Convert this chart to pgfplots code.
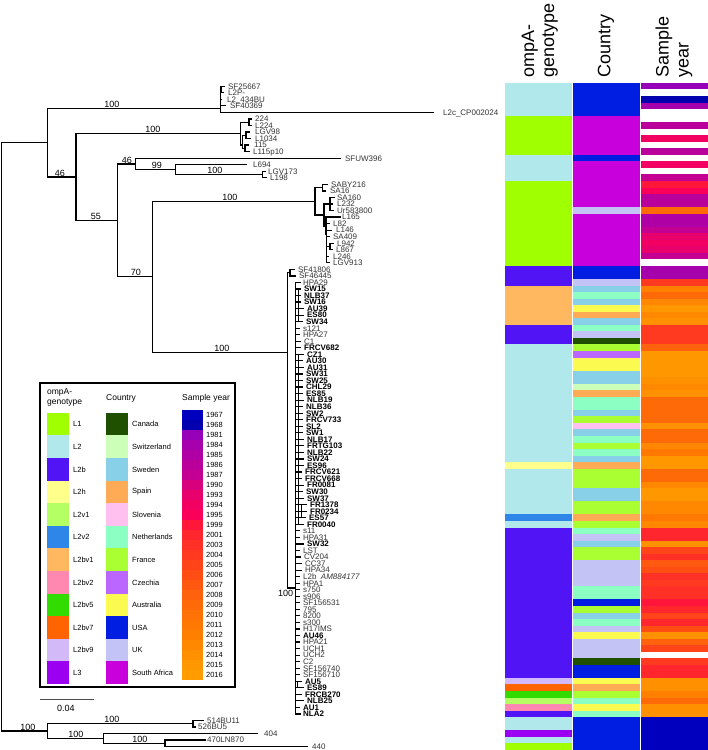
\documentclass[border=0pt]{standalone}
\usepackage{fontspec}
\setmainfont{Liberation Sans}
\usepackage{pgfplots}
\usepackage{pgfplotstable}
\pgfplotsset{compat=1.18}

% genotype colours
\definecolor{L1}{RGB}{160,255,0}
\definecolor{L2}{RGB}{176,232,236}
\definecolor{L2b}{RGB}{80,20,245}
\definecolor{L2h}{RGB}{255,255,140}
\definecolor{L2v1}{RGB}{180,255,100}
\definecolor{L2v2}{RGB}{46,134,232}
\definecolor{L2bv1}{RGB}{255,184,96}
\definecolor{L2bv2}{RGB}{255,136,176}
\definecolor{L2bv5}{RGB}{50,220,0}
\definecolor{L2bv7}{RGB}{255,100,0}
\definecolor{L2bv9}{RGB}{210,185,248}
\definecolor{L3}{RGB}{155,0,240}
% country colours
\definecolor{Canada}{RGB}{30,80,0}
\definecolor{Switzerland}{RGB}{204,255,184}
\definecolor{Sweden}{RGB}{136,208,232}
\definecolor{Spain}{RGB}{255,170,85}
\definecolor{Slovenia}{RGB}{255,192,240}
\definecolor{Netherlands}{RGB}{140,255,195}
\definecolor{France}{RGB}{170,255,51}
\definecolor{Czechia}{RGB}{187,102,255}
\definecolor{Australia}{RGB}{250,250,80}
\definecolor{USA}{RGB}{0,30,225}
\definecolor{UK}{RGB}{195,195,245}
\definecolor{SAf}{RGB}{200,0,220}
% year colours
\definecolor{y1967}{RGB}{0,0,190}
\definecolor{y1968}{RGB}{0,0,175}
\definecolor{y1981}{RGB}{150,0,185}
\definecolor{y1984}{RGB}{165,0,172}
\definecolor{y1985}{RGB}{175,0,165}
\definecolor{y1986}{RGB}{185,0,155}
\definecolor{y1987}{RGB}{195,0,145}
\definecolor{y1990}{RGB}{215,0,125}
\definecolor{y1993}{RGB}{232,0,108}
\definecolor{y1994}{RGB}{242,0,98}
\definecolor{y1995}{RGB}{250,0,88}
\definecolor{y1999}{RGB}{255,22,58}
\definecolor{y2001}{RGB}{255,38,45}
\definecolor{y2003}{RGB}{255,48,38}
\definecolor{y2004}{RGB}{255,58,32}
\definecolor{y2005}{RGB}{255,68,26}
\definecolor{y2006}{RGB}{255,78,20}
\definecolor{y2007}{RGB}{255,88,16}
\definecolor{y2008}{RGB}{255,98,12}
\definecolor{y2009}{RGB}{255,106,8}
\definecolor{y2010}{RGB}{255,114,5}
\definecolor{y2011}{RGB}{255,121,2}
\definecolor{y2012}{RGB}{255,128,0}
\definecolor{y2013}{RGB}{255,136,0}
\definecolor{y2014}{RGB}{255,144,0}
\definecolor{y2015}{RGB}{255,151,0}
\definecolor{y2016}{RGB}{255,157,0}

\pgfdeclareplotmark{hcell}{\pgfpathrectangle{\pgfqpoint{-33.25pt}{-3.35pt}}{\pgfqpoint{66.5pt}{6.7pt}}\pgfusepathqfill}
\pgfdeclareplotmark{lsw}{\pgfpathrectangle{\pgfqpoint{-11pt}{-11.35pt}}{\pgfqpoint{22pt}{22.7pt}}\pgfusepathqfill}
\pgfdeclareplotmark{ysw}{\pgfpathrectangle{\pgfqpoint{-10.8pt}{-5.1pt}}{\pgfqpoint{21.6pt}{10.2pt}}\pgfusepathqfill}

\pgfplotsset{
 gclass/.style={scatter/classes={L1={color=L1},L2={color=L2},L2b={color=L2b},L2h={color=L2h},L2v1={color=L2v1},L2v2={color=L2v2},L2bv1={color=L2bv1},L2bv2={color=L2bv2},L2bv5={color=L2bv5},L2bv7={color=L2bv7},L2bv9={color=L2bv9},L3={color=L3}}},
 cclass/.style={scatter/classes={Canada={color=Canada},Switzerland={color=Switzerland},Sweden={color=Sweden},Spain={color=Spain},Slovenia={color=Slovenia},Netherlands={color=Netherlands},France={color=France},Czechia={color=Czechia},Australia={color=Australia},USA={color=USA},UK={color=UK},SAf={color=SAf}}},
 yclass/.style={scatter/classes={na={color=white},y1967={color=y1967},y1968={color=y1968},y1981={color=y1981},y1984={color=y1984},y1985={color=y1985},y1986={color=y1986},y1987={color=y1987},y1990={color=y1990},y1993={color=y1993},y1994={color=y1994},y1995={color=y1995},y1999={color=y1999},y2001={color=y2001},y2003={color=y2003},y2004={color=y2004},y2005={color=y2005},y2006={color=y2006},y2007={color=y2007},y2008={color=y2008},y2009={color=y2009},y2010={color=y2010},y2011={color=y2011},y2012={color=y2012},y2013={color=y2013},y2014={color=y2014},y2015={color=y2015},y2016={color=y2016}}},
}

\pgfplotstableread{
r g c yr
0 L2 USA y1981
1 L2 USA na
2 L2 USA y1968
3 L2 USA y1984
4 L2 USA na
5 L1 SAf na
6 L1 SAf y1986
7 L1 SAf na
8 L1 SAf y1994
9 L1 SAf na
10 L1 SAf y1986
11 L2 USA na
12 L2 SAf y1994
13 L2 SAf na
14 L2 SAf y1987
15 L1 SAf y1999
16 L1 SAf y1995
17 L1 SAf y1986
18 L1 SAf y1986
19 L1 UK y2009
20 L1 SAf y1985
21 L1 SAf y1985
22 L1 SAf y1987
23 L1 SAf y1993
24 L1 SAf y1994
25 L1 SAf y1993
26 L1 SAf y1987
27 L1 SAf na
28 L2b USA y1984
29 L2b USA y1984
30 L2b UK y2004
31 L2bv1 Sweden y2012
32 L2bv1 Netherlands y2009
33 L2bv1 Sweden y2013
34 L2bv1 Australia y2015
35 L2bv1 Spain y2013
36 L2bv1 Sweden y2014
37 L2b Netherlands y2004
38 L2b UK y2004
39 L2b Canada y2004
40 L2 France y2008
41 L2 Czechia y2015
42 L2 Australia y2015
43 L2 Australia y2015
44 L2 Sweden y2015
45 L2 Sweden y2014
46 L2 Switzerland y2013
47 L2 Spain y2014
48 L2 Netherlands y2009
49 L2 Netherlands y2009
50 L2 Sweden y2009
51 L2 France y2009
52 L2 Slovenia y2014
53 L2 Sweden y2009
54 L2 Netherlands y2009
55 L2 France y2013
56 L2 Netherlands y2011
57 L2 Sweden y2015
58 L2h Spain y2015
59 L2 France y2009
60 L2 France y2009
61 L2 France y2013
62 L2 Sweden y2015
63 L2 Sweden y2015
64 L2 France y2013
65 L2 France y2013
66 L2v2 Spain y2011
67 L2 France y2013
68 L2b Netherlands y2001
69 L2b UK y2001
70 L2b Sweden y2014
71 L2b France y2005
72 L2b France y2003
73 L2b UK y2007
74 L2b UK y2006
75 L2b UK y2003
76 L2b UK y2004
77 L2b Netherlands y2003
78 L2b Netherlands y2003
79 L2b USA y1999
80 L2b France y2001
81 L2b Sweden y2005
82 L2b Netherlands y2001
83 L2b UK y2006
84 L2b Australia y2014
85 L2b UK y2008
86 L2b UK y2005
87 L2b UK na
88 L2b Canada y2004
89 L2b USA y2001
90 L2b USA y2001
91 L2bv9 Australia y2014
92 L2bv7 Spain y2014
93 L2bv5 France y2012
94 L2v1 Netherlands y2009
95 L2bv2 Australia y2014
96 L2b Netherlands y2014
97 L2 USA y1967
98 L2 USA y1967
99 L3 USA y1967
100 L2 USA y1967
101 L1 USA y1967
}\heat

\pgfplotstableread{
k g
0 L1
1 L2
2 L2b
3 L2h
4 L2v1
5 L2v2
6 L2bv1
7 L2bv2
8 L2bv5
9 L2bv7
10 L2bv9
11 L3
}\leggeno
\pgfplotstableread{
k c
0 Canada
1 Switzerland
2 Sweden
3 Spain
4 Slovenia
5 Netherlands
6 France
7 Czechia
8 Australia
9 USA
10 UK
11 SAf
}\legctry
\pgfplotstableread{
k yr
0 y1967
1 y1968
2 y1981
3 y1984
4 y1985
5 y1986
6 y1987
7 y1990
8 y1993
9 y1994
10 y1995
11 y1999
12 y2001
13 y2003
14 y2004
15 y2005
16 y2006
17 y2007
18 y2008
19 y2009
20 y2010
21 y2011
22 y2012
23 y2013
24 y2014
25 y2015
26 y2016
}\legyear

\newcommand\tipfont{\fontsize{8}{8}\selectfont}
\newcommand\suplabfont{\fontsize{9}{9}\selectfont}
\newcommand\lgfont{\fontsize{7.5}{8}\selectfont}
\newcommand\lhfont{\fontsize{8.5}{10}\selectfont}
\newcommand\tipR[3]{\node[anchor=base west,yshift=-2.85pt,inner sep=0pt,font=\tipfont,text=black!80] at (axis cs:#1,#2){#3};}
\newcommand\tipB[3]{\node[anchor=base west,yshift=-2.85pt,inner sep=0pt,font=\tipfont\bfseries] at (axis cs:#1,#2){#3};}
\newcommand\suplab[3]{\node[anchor=south,inner sep=0.6pt,font=\suplabfont] at (axis cs:#1,#2){#3};}

\begin{document}
\begin{tikzpicture}
\begin{axis}[at={(0,0)}, anchor=south west, scale only axis, width=708pt, height=750pt,
  xmin=0, xmax=708, ymin=-12.691, ymax=101.988, y dir=reverse, hide axis, clip=false,
  unbounded coords=jump]
\addplot[draw=none] coordinates {(0,-12.691) (708,101.988)};
% heatmap
\addplot[scatter, only marks, mark=hcell, scatter src=explicit symbolic, gclass]
  table[x expr=538.5, y expr=\thisrow{r}+0.5, meta=g] {\heat};
\addplot[scatter, only marks, mark=hcell, scatter src=explicit symbolic, cclass]
  table[x expr=606.5, y expr=\thisrow{r}+0.5, meta=c] {\heat};
\addplot[scatter, only marks, mark=hcell, scatter src=explicit symbolic, yclass]
  table[x expr=674.5, y expr=\thisrow{r}+0.5, meta=yr] {\heat};
% tree backbone
\addplot[black, line width=1.3pt, line cap=rect, line join=miter] coordinates {
(47.7,9.12)(1.7,9.12)(1.7,99.125)(47.5,99.125) (nan,nan)
(220.7,3.87)(47.7,3.87)(47.7,14.37)(76,14.37) (nan,nan)
(224,0.5)(220.7,0.5)(220.7,4.5)(433,4.5) (nan,nan)
(240.7,7.75)(76,7.75)(76,20.99)(117.3,20.99) (nan,nan)
(249,6)(240.7,6)(240.7,9.5)(242.7,9.5) (nan,nan)
(251,5.5)(249,5.5)(249,6.5)(251,6.5) (nan,nan)
(246,8)(242.7,8)(242.7,10)(245,10) (nan,nan)
(249,7.5)(246,7.5)(246,8.5)(250,8.5) (nan,nan)
(248,9.5)(245,9.5)(245,10.5)(249,10.5) (nan,nan)
(135.7,12.375)(117.3,12.375)(117.3,29.6)(152.3,29.6) (nan,nan)
(340,11.5)(135.7,11.5)(135.7,13.25)(175.7,13.25) (nan,nan)
(246.7,12.5)(175.7,12.5)(175.7,14)(262.3,14) (nan,nan)
(265,13.5)(262.3,13.5)(262.3,14.5)(266,14.5) (nan,nan)
(315,18.09)(152.3,18.09)(152.3,41.18)(287.7,41.18) (nan,nan)
(322.7,16)(315,16)(315,20.18)(324,20.18) (nan,nan)
(327,15.5)(322.7,15.5)(322.7,16.5)(325,16.5) (nan,nan)
(330,18.5)(324,18.5)(324,21.85)(326,21.85) (nan,nan)
(334,17.5)(330,17.5)(330,19.5)(333,19.5) (nan,nan)
(340,20.5)(326,20.5)(326,23.2)(326.5,23.2) (nan,nan)
(329,21.5)(326.5,21.5)(326.5,27.5)(329,27.5) (nan,nan)
(333,24.5)(330,24.5)(330,25.5)(332,25.5) (nan,nan)
(290,29)(287.7,29)(287.7,77.22)(295.7,77.22) (nan,nan)
(294,28.5)(290,28.5)(290,29.5)(295,29.5) (nan,nan)
(300,30.5)(295.7,30.5)(295.7,96.5)(300,96.5) (nan,nan)
(193,98)(47.5,98)(47.5,100.25)(103.6,100.25) (nan,nan)
(203,97.5)(193,97.5)(193,98.5)(195,98.5) (nan,nan)
(257,99.5)(103.6,99.5)(103.6,101)(165,101) (nan,nan)
(205,100.5)(165,100.5)(165,101.5)(307,101.5)
};
% short tips
\addplot[black, line width=1.1pt] coordinates {
(220.7,1.5)(224,1.5) (nan,nan) (220.7,2.5)(222,2.5) (nan,nan) (220.7,3.5)(226,3.5) (nan,nan)
(221.8,0.5)(221.8,1.5) (nan,nan)
(330,18.5)(333,18.5) (nan,nan)
(326.5,22.5)(332,22.5) (nan,nan) (326.5,23.5)(330,23.5) (nan,nan) (326.5,25)(330,25) (nan,nan) (326.5,26.5)(329,26.5) (nan,nan)
(295.7,31.5)(301.5,31.5) (nan,nan) (295.7,32.5)(301.5,32.5) (nan,nan) (295.7,33.5)(301.5,33.5) (nan,nan)
(295.7,34.5)(304.5,34.5) (nan,nan) (295.7,35.5)(304.5,35.5) (nan,nan) (295.7,36.5)(303.5,36.5) (nan,nan)
(295.7,37.5)(300.5,37.5) (nan,nan) (295.7,38.5)(300.5,38.5) (nan,nan) (295.7,39.5)(301.5,39.5) (nan,nan)
(295.7,40.5)(301.5,40.5) (nan,nan) (295.7,41.5)(304.5,41.5) (nan,nan) (295.7,42.5)(303.5,42.5) (nan,nan)
(295.7,43.5)(304.5,43.5) (nan,nan) (295.7,44.5)(303.5,44.5) (nan,nan) (295.7,45.5)(303.5,45.5) (nan,nan)
(295.7,46.5)(303.5,46.5) (nan,nan) (295.7,47.5)(303.5,47.5) (nan,nan) (295.7,48.5)(304.5,48.5) (nan,nan)
(295.7,49.5)(303.5,49.5) (nan,nan) (295.7,50.5)(303.5,50.5) (nan,nan) (295.7,51.5)(303.5,51.5) (nan,nan)
(295.7,52.5)(303.5,52.5) (nan,nan) (295.7,53.5)(303.5,53.5) (nan,nan) (295.7,54.5)(304.5,54.5) (nan,nan)
(295.7,55.5)(304.5,55.5) (nan,nan) (295.7,56.5)(304.5,56.5) (nan,nan) (295.7,57.5)(304.5,57.5) (nan,nan)
(295.7,58.5)(304.5,58.5) (nan,nan) (295.7,59.5)(302.5,59.5) (nan,nan) (295.7,60.5)(302.5,60.5) (nan,nan)
(295.7,61.5)(304.5,61.5) (nan,nan) (295.7,62.5)(303.5,62.5) (nan,nan) (295.7,63.5)(304.5,63.5) (nan,nan)
(295.7,64.5)(307.5,64.5) (nan,nan) (295.7,65.5)(307.5,65.5) (nan,nan) (295.7,66.5)(306.5,66.5) (nan,nan)
(295.7,67.5)(304.5,67.5) (nan,nan) (295.7,68.5)(300.5,68.5) (nan,nan) (295.7,69.5)(300.5,69.5) (nan,nan)
(295.7,70.5)(304.5,70.5) (nan,nan) (295.7,71.5)(300.5,71.5) (nan,nan) (295.7,72.5)(301.5,72.5) (nan,nan)
(295.7,73.5)(302.5,73.5) (nan,nan) (295.7,74.5)(302.5,74.5) (nan,nan) (295.7,75.5)(300.5,75.5) (nan,nan)
(295.7,76.5)(300.5,76.5) (nan,nan) (295.7,77.5)(300.5,77.5) (nan,nan) (295.7,78.5)(300.5,78.5) (nan,nan)
(295.7,79.5)(300.5,79.5) (nan,nan) (295.7,80.5)(300.5,80.5) (nan,nan) (295.7,81.5)(300.5,81.5) (nan,nan)
(295.7,82.5)(300.5,82.5) (nan,nan) (295.7,83.5)(300.5,83.5) (nan,nan) (295.7,84.5)(300.5,84.5) (nan,nan)
(295.7,85.5)(300.5,85.5) (nan,nan) (295.7,86.5)(300.5,86.5) (nan,nan) (295.7,87.5)(300.5,87.5) (nan,nan)
(295.7,88.5)(300.5,88.5) (nan,nan) (295.7,89.5)(300.5,89.5) (nan,nan) (295.7,90.5)(300.5,90.5) (nan,nan)
(295.7,91.5)(302.5,91.5) (nan,nan) (295.7,92.5)(304.5,92.5) (nan,nan) (295.7,93.5)(302.5,93.5) (nan,nan)
(295.7,94.5)(304.5,94.5) (nan,nan) (295.7,95.5)(300.5,95.5) (nan,nan)
(298.3,31.5)(298.3,36.5) (nan,nan) (298.3,41.5)(298.3,67.5) (nan,nan) (301.5,64.5)(301.5,66.5) (nan,nan)
(298,91.5)(298,92.5)
};
% support values
\suplab{28}{99.125}{100}
\suplab{112}{98}{100}
\suplab{76}{100.25}{100}
\suplab{140}{101}{100}
\suplab{112}{3.87}{100}
\suplab{60}{14.37}{46}
\suplab{153}{7.75}{100}
\suplab{96}{20.99}{55}
\suplab{127}{12.375}{46}
\suplab{157}{13.25}{99}
\suplab{215}{14}{100}
\suplab{136}{29.6}{70}
\suplab{230}{18.09}{100}
\suplab{222}{41.18}{100}
\node[anchor=north east,inner sep=0.6pt,font=\suplabfont] at (axis cs:294,77.5){100};
% tip labels
\tipR{228}{0.5}{SF25667}
\tipR{228}{1.5}{L2P-}
\tipR{227}{2.5}{L2\_434BU}
\tipR{230}{3.5}{SF40369}
\tipR{443}{4.5}{L2c\_CP002024}
\tipR{255}{5.5}{224}
\tipR{255}{6.5}{L224}
\tipR{255}{7.5}{LGV98}
\tipR{255}{8.5}{L1034}
\tipR{254}{9.5}{115}
\tipR{253}{10.5}{L115p10}
\tipR{345}{11.5}{SFUW396}
\tipR{253}{12.5}{L694}
\tipR{268}{13.5}{LGV173}
\tipR{270}{14.5}{L198}
\tipR{331}{15.5}{SABY216}
\tipR{330}{16.5}{SA16}
\tipR{337}{17.5}{SA160}
\tipR{337}{18.5}{L232}
\tipR{337}{19.5}{Ur583800}
\tipR{342}{20.5}{L165}
\tipR{333}{21.5}{L82}
\tipR{336}{22.5}{L146}
\tipR{333}{23.5}{SA409}
\tipR{337}{24.5}{L942}
\tipR{336}{25.5}{L867}
\tipR{333}{26.5}{L246}
\tipR{333}{27.5}{LGV913}
\tipR{298}{28.5}{SF41806}
\tipR{299}{29.5}{SF46445}
\tipR{303}{30.5}{HPA29}
\tipB{304}{31.5}{SW15}
\tipB{304}{32.5}{NLB37}
\tipB{304}{33.5}{SW16}
\tipB{307}{34.5}{AU39}
\tipB{307}{35.5}{ES80}
\tipB{306}{36.5}{SW34}
\tipR{303}{37.5}{s121}
\tipR{303}{38.5}{HPA27}
\tipR{304}{39.5}{C1}
\tipB{304}{40.5}{FRCV682}
\tipB{307}{41.5}{CZ1}
\tipB{306}{42.5}{AU30}
\tipB{307}{43.5}{AU31}
\tipB{306}{44.5}{SW31}
\tipB{306}{45.5}{SW25}
\tipB{306}{46.5}{CHL29}
\tipB{306}{47.5}{ES85}
\tipB{307}{48.5}{NLB19}
\tipB{306}{49.5}{NLB36}
\tipB{306}{50.5}{SW2}
\tipB{306}{51.5}{FRCV733}
\tipB{306}{52.5}{SL2}
\tipB{306}{53.5}{SW1}
\tipB{307}{54.5}{NLB17}
\tipB{307}{55.5}{FRTG103}
\tipB{307}{56.5}{NLB22}
\tipB{307}{57.5}{SW24}
\tipB{307}{58.5}{ES96}
\tipB{305}{59.5}{FRCV621}
\tipB{305}{60.5}{FRCV668}
\tipB{307}{61.5}{FR0081}
\tipB{306}{62.5}{SW30}
\tipB{307}{63.5}{SW37}
\tipB{310}{64.5}{FR1378}
\tipB{310}{65.5}{FR0234}
\tipB{309}{66.5}{ES57}
\tipB{307}{67.5}{FR0040}
\tipR{303}{68.5}{s11}
\tipR{303}{69.5}{HPA31}
\tipB{307}{70.5}{SW32}
\tipR{303}{71.5}{LST}
\tipR{304}{72.5}{CV204}
\tipR{305}{73.5}{CC37}
\tipR{305}{74.5}{HPA34}
\tipR{303}{75.5}{L2b\ \ {\itshape AM884177}}
\tipR{303}{76.5}{HPA1}
\tipR{303}{77.5}{s750}
\tipR{303}{78.5}{s906}
\tipR{303}{79.5}{SF156531}
\tipR{303}{80.5}{795}
\tipR{303}{81.5}{8200}
\tipR{303}{82.5}{s300}
\tipR{303}{83.5}{H17IMS}
\tipB{303}{84.5}{AU46}
\tipR{303}{85.5}{HPA21}
\tipR{303}{86.5}{UCH1}
\tipR{303}{87.5}{UCH2}
\tipR{303}{88.5}{C2}
\tipR{303}{89.5}{SF156740}
\tipR{303}{90.5}{SF156710}
\tipB{305}{91.5}{AU5}
\tipB{307}{92.5}{ES89}
\tipB{305}{93.5}{FRCB270}
\tipB{307}{94.5}{NLB25}
\tipB{303}{95.5}{AU1}
\tipB{303}{96.5}{NLA2}
\tipR{207}{97.5}{514BU11}
\tipR{198}{98.5}{526BU5}
\tipR{264}{99.5}{404}
\tipR{207}{100.5}{470LN870}
\tipR{312}{101.5}{440}
\end{axis}

\begin{axis}[at={(0,0)}, anchor=south west, scale only axis, width=708pt, height=750pt,
  xmin=0, xmax=708, ymin=0, ymax=750, y dir=reverse, hide axis, clip=false]
% column headers
\node[rotate=90,anchor=west,align=left,inner sep=0pt,font=\fontsize{18}{20}\selectfont] at (axis cs:540,78){ompA-\\genotype};
\node[rotate=90,anchor=west,align=left,inner sep=0pt,font=\fontsize{18}{20}\selectfont] at (axis cs:606,78){Country};
\node[rotate=90,anchor=west,align=left,inner sep=0pt,font=\fontsize{18}{20}\selectfont] at (axis cs:674,78){Sample\\year};
% legend box
\addplot[black, line width=1.3pt, line cap=rect, line join=miter] coordinates {(40,383)(235,383)(235,687)(40,687)(40,383)(235,383)};
% legend swatches
\addplot[scatter, only marks, mark=lsw, scatter src=explicit symbolic, gclass]
  table[x expr=58.2, y expr=424.3+22.6*\thisrow{k}, meta=g] {\leggeno};
\addplot[scatter, only marks, mark=lsw, scatter src=explicit symbolic, cclass]
  table[x expr=116.9, y expr=424.3+22.6*\thisrow{k}, meta=c] {\legctry};
\addplot[scatter, only marks, mark=ysw, scatter src=explicit symbolic, yclass]
  table[x expr=192.5, y expr=415+10*\thisrow{k}, meta=yr] {\legyear};
% legend headers
\node[anchor=west,align=left,inner sep=0pt,font=\lhfont] at (axis cs:47,398){ompA-\\genotype};
\node[anchor=west,inner sep=0pt,font=\lhfont] at (axis cs:106,398){Country};
\node[anchor=west,inner sep=0pt,font=\lhfont] at (axis cs:182,398){Sample year};
% legend labels
\foreach \t [count=\i from 0] in {L1,L2,L2b,L2h,L2v1,L2v2,L2bv1,L2bv2,L2bv5,L2bv7,L2bv9,L3}{
  \edef\tmp{\noexpand\node[anchor=west,inner sep=0pt,font=\noexpand\lgfont] at (axis cs:73,{424.3+22.6*\i}){\t};}\tmp}
\foreach \t [count=\i from 0] in {Canada,Switzerland,Sweden,Spain,Slovenia,Netherlands,France,Czechia,Australia,USA,UK,South Africa}{
  \edef\tmp{\noexpand\node[anchor=west,inner sep=0pt,font=\noexpand\lgfont] at (axis cs:132,{424.3+22.6*\i}){\t};}\tmp}
\foreach \t [count=\i from 0] in {1967,1968,1981,1984,1985,1986,1987,1990,1993,1994,1995,1999,2001,2003,2004,2005,2006,2007,2008,2009,2010,2011,2012,2013,2014,2015,2016}{
  \edef\tmp{\noexpand\node[anchor=west,inner sep=0pt,font=\noexpand\lgfont] at (axis cs:206,{415+10*\i}){\t};}\tmp}
% scale bar
\addplot[black!70, line width=1.2pt] coordinates {(40,700)(93.6,700)};
\node[font=\suplabfont,inner sep=0pt] at (axis cs:66,709){0.04};
\end{axis}
\end{tikzpicture}
\end{document}
